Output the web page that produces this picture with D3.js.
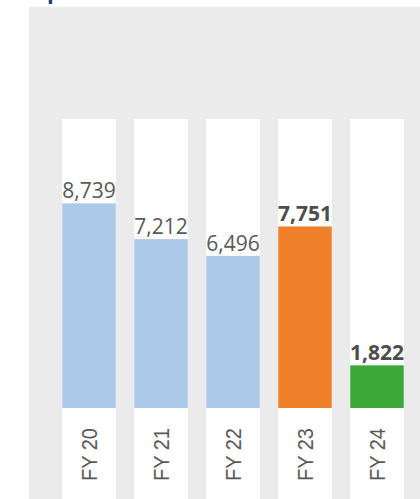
<!DOCTYPE html>
<html>
<head>
<meta charset="utf-8">
<script src="https://cdn.jsdelivr.net/npm/d3@7"></script>
<style>
  html, body { margin: 0; padding: 0; background: #ffffff; }
  svg { display: block; }
</style>
</head>
<body>
<div id="chart"></div>
<script>
// data
const years = ["FY 20", "FY 21", "FY 22", "FY 23", "FY 24"];
const values = [8739, 7212, 6496, 7751, 1822];
const barColors = ["#adc9e9", "#adc9e9", "#adc9e9", "#ef7f29", "#3ba935"];
const boldLabels = [false, false, false, true, true];

const width = 420, height = 499;
const baseY = 408, colTop = 119;

const svg = d3.select("#chart").append("svg")
    .attr("width", width)
    .attr("height", height);

// grey panel
svg.append("rect")
    .attr("x", 29).attr("y", 7)
    .attr("width", width - 29).attr("height", height - 7)
    .attr("fill", "#ebebeb");

// bits of the title cut off at the top
svg.append("text")
    .attr("x", 47).attr("y", -1)
    .style("font-family", "'Open Sans', sans-serif")
    .style("font-weight", "bold")
    .style("font-size", "22px")
    .style("fill", "#1f3d6d")
    .text("p");
svg.append("text")
    .attr("x", 341).attr("y", -10)
    .style("font-family", "'Open Sans', sans-serif")
    .style("font-size", "18px")
    .style("fill", "#777")
    .text("(");

const x = d3.scaleBand()
    .domain(years)
    .range([53, 413])
    .paddingInner(0.257)
    .paddingOuter(0.1285);

const y = d3.scaleLinear()
    .domain([0, 12340])
    .range([baseY, colTop]);

// white columns
svg.append("g").selectAll("rect")
    .data(years)
    .enter().append("rect")
    .attr("x", d => x(d))
    .attr("y", y(12340))
    .attr("width", x.bandwidth())
    .attr("height", height - y(12340))
    .attr("fill", "#ffffff");

// bars
svg.append("g").selectAll("rect")
    .data(values)
    .enter().append("rect")
    .attr("x", (d, i) => x(years[i]))
    .attr("y", d => y(d))
    .attr("width", x.bandwidth())
    .attr("height", d => y(0) - y(d))
    .attr("fill", (d, i) => barColors[i]);

// value labels
svg.append("g").selectAll("text")
    .data(values)
    .enter().append("text")
    .attr("x", (d, i) => x(years[i]) + x.bandwidth() / 2)
    .attr("y", d => y(d) - 5)
    .attr("text-anchor", "middle")
    .style("font-family", "'Open Sans', sans-serif")
    .style("font-size", "21px")
    .style("font-weight", (d, i) => boldLabels[i] ? "bold" : "normal")
    .style("fill", (d, i) => boldLabels[i] ? "#4d4d4d" : "#595959")
    .text(d => d3.format(",")(d));

// category labels (rotated)
svg.append("g").selectAll("text")
    .data(years)
    .enter().append("text")
    .attr("transform", d => "translate(" + (x(d) + x.bandwidth() / 2 + 8) + ",481) rotate(-90) scale(1,1.12)")
    .attr("text-anchor", "start")
    .style("font-family", "'Liberation Sans', Arial, sans-serif")
    .style("font-size", "20px")
    .style("fill", "#595959")
    .text(d => d);
</script>
</body>
</html>
